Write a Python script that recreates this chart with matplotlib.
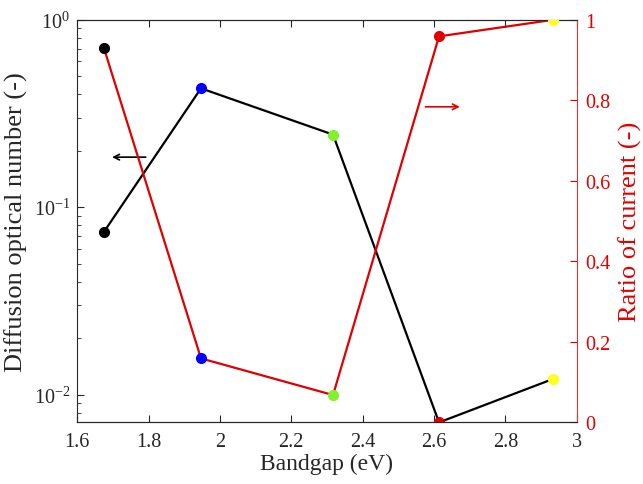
import numpy as np
import matplotlib
matplotlib.use("Agg")
from matplotlib import pyplot as plt
from matplotlib.ticker import FixedLocator, FormatStrFormatter, LogLocator

plt.rcParams['font.family'] = ['Liberation Serif', 'DejaVu Serif']
plt.rcParams['mathtext.fontset'] = 'custom'
plt.rcParams['mathtext.rm'] = 'Liberation Serif'

# data
bandgap = [1.675, 1.947, 2.317, 2.614, 2.933]
diffusion_number = [0.0738, 0.431, 0.244, 0.0071, 0.0121]
current_ratio = [0.930, 0.159, 0.068, 0.959, 1.0]
point_colors = ['black', 'blue', '#80f030', '#e00000', '#ffff20']

axis_gray = '#262626'
red = '#e00000'

fig = plt.figure(figsize=(6.43, 4.85), dpi=100)
ax1 = fig.add_axes([0.12, 0.127, 0.777, 0.83])
ax2 = ax1.twinx()

ax1.plot(bandgap, diffusion_number, color='black', lw=1.6, zorder=2)
for x, y, c in zip(bandgap, diffusion_number, point_colors):
    ax1.plot(x, y, 'o', color=c, ms=7, zorder=3, clip_on=True)

ax2.plot(bandgap, current_ratio, color=red, lw=1.6, zorder=2)
for x, y, c in zip(bandgap, current_ratio, point_colors):
    ax2.plot(x, y, 'o', color=c, ms=7, zorder=3, clip_on=True)

ax1.set_yscale('log')
ax1.set_xlim(1.6, 3.0)
ax1.set_ylim(0.0071, 1.0)
ax2.set_ylim(0, 1)

ax1.xaxis.set_major_locator(FixedLocator([1.6, 1.8, 2.0, 2.2, 2.4, 2.6, 2.8, 3.0]))
ax1.xaxis.set_major_formatter(FormatStrFormatter('%g'))
ax1.yaxis.set_major_locator(LogLocator(base=10, numticks=10))
ax1.yaxis.set_minor_locator(LogLocator(base=10, subs=np.arange(2, 10), numticks=10))
ax2.yaxis.set_major_locator(FixedLocator([0, 0.2, 0.4, 0.6, 0.8, 1.0]))
ax2.yaxis.set_major_formatter(FormatStrFormatter('%g'))

ax1.tick_params(axis='x', direction='in', top=True, length=5, labelsize=14.5,
                colors=axis_gray, pad=7)
ax1.tick_params(axis='y', which='major', direction='in', length=5, labelsize=14.5,
                colors=axis_gray, pad=5)
ax1.tick_params(axis='y', which='minor', direction='in', length=3, colors=axis_gray)
ax2.tick_params(axis='y', direction='in', length=5, labelsize=14.5, colors=red, pad=6)

for side in ['left', 'top', 'bottom']:
    ax1.spines[side].set_color(axis_gray)
ax2.spines['right'].set_color('#f03030')
ax2.spines['left'].set_visible(False)
ax2.spines['top'].set_color(axis_gray)
ax2.spines['bottom'].set_color(axis_gray)
ax1.spines['right'].set_visible(False)

ax1.set_xlabel('Bandgap (eV)', fontsize=17, color=axis_gray, labelpad=1)
ax1.set_ylabel('Diffusion optical number (-)', fontsize=19, color=axis_gray, labelpad=4)
ax2.set_ylabel('Ratio of current (-)', fontsize=19, color=red, labelpad=6)

# arrows pointing to the axis each curve belongs to
ax1.annotate('', xy=(1.69, 0.185), xytext=(1.80, 0.185),
             arrowprops=dict(arrowstyle='->', color='black', lw=1.2))
ax2.annotate('', xy=(2.68, 0.784), xytext=(2.568, 0.784),
             arrowprops=dict(arrowstyle='->', color=red, lw=1.2))

fig.savefig('out.png', dpi=100)
